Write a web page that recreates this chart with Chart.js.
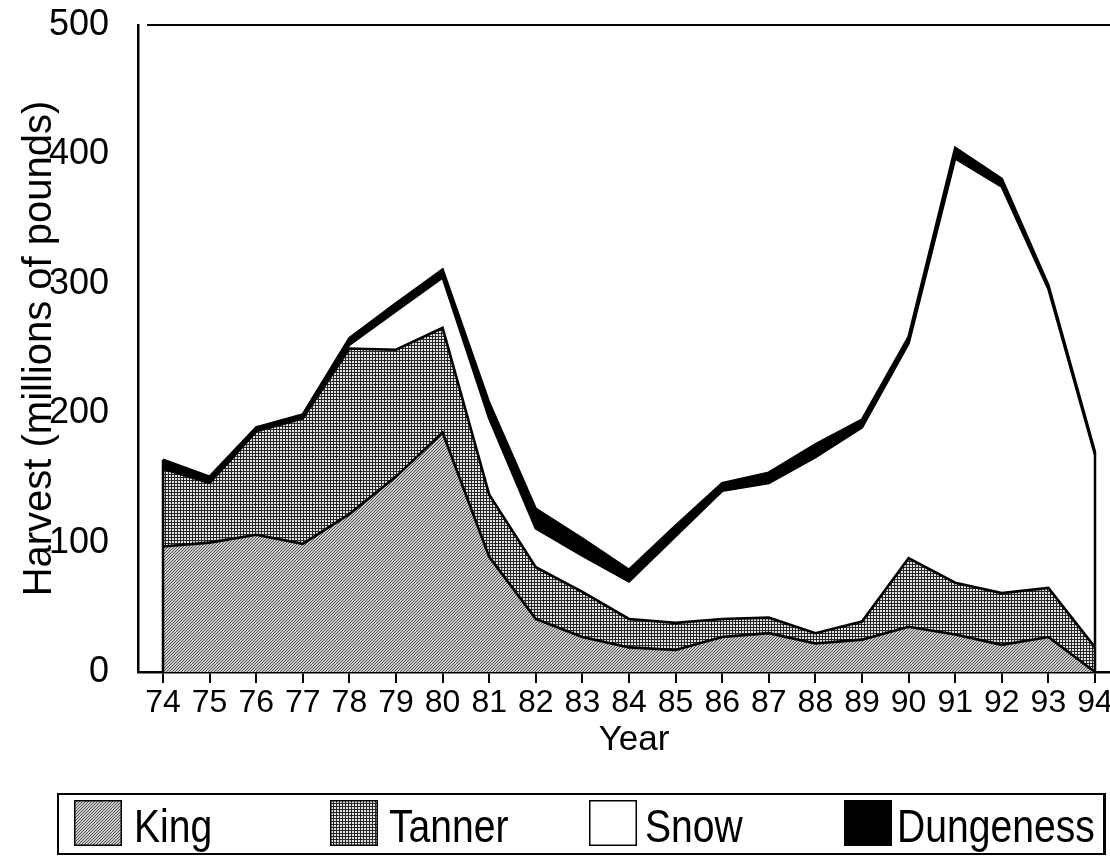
<!DOCTYPE html>
<html>
<head>
<meta charset="utf-8">
<script src="https://cdn.jsdelivr.net/npm/chart.js@4"></script>
<style>
html,body{margin:0;padding:0;background:#fff;overflow:hidden;width:1110px;height:856px;}
#wrap{position:relative;width:1130px;height:856px;}
#c{position:absolute;left:0;top:0;}
#legend{position:absolute;left:57px;top:793px;width:1044px;height:58px;border:2px solid #000;border-right-width:3px;font-family:"Liberation Sans",Arial,sans-serif;color:#000;}
.sw{position:absolute;top:5px;}
.lt{position:absolute;top:2px;font-size:46px;line-height:58px;transform-origin:left center;transform:scaleX(0.85);white-space:nowrap;}
</style>
</head>
<body>
<div id="wrap">
<canvas id="c" width="1130" height="856"></canvas>
<div id="legend"></div>
</div>
<script>
// ---- data (millions of pounds) ----
const years = [74,75,76,77,78,79,80,81,82,83,84,85,86,87,88,89,90,91,92,93,94];
const king      = [97,100,106,99,122,151,185,89,41,27,19,17,27,30,22,25,35,29,21,27,0];
const tanner    = [60,46,80,97,128,98,81,48,40,35,22,21,14,12,8,14,53,40,40,38,19];
const snow      = [1,1,1,1,3,30,39,59,30,28,29,67,99,104,136,150,166,328,314,231,149];
const dungeness = [6,4,2,2,5,6,6,12,15,13,9,8,6,8,10,6,5,8,6,3,2];
const yTicks = [0,100,200,300,400,500];
const seriesNames = ['King','Tanner','Snow','Dungeness'];

const FAMILY = '"Liberation Sans", Arial, Helvetica, sans-serif';

function makePattern(kind){
  const t = document.createElement('canvas');
  const n = kind === 'king' ? 6 : 3;
  t.width = n; t.height = n;
  const g = t.getContext('2d');
  if (kind === 'king'){
    g.fillStyle = '#cdcdcd'; g.fillRect(0,0,n,n);
    g.fillStyle = '#505050';
    for (let i=0;i<n;i++){ for (let j=0;j<n;j++){ if ((i + j) % 3 === 0) g.fillRect(i,j,1,1); } }
  } else {
    g.fillStyle = '#e4e4e4'; g.fillRect(0,0,n,n);
    g.fillStyle = '#262626';
    g.fillRect(0,0,n,1); g.fillRect(0,0,1,n);
  }
  return g.createPattern(t,'repeat');
}
const kingPat = makePattern('king');
const tannerPat = makePattern('tanner');

const fills = [kingPat, tannerPat, '#ffffff', '#000000'];
const seriesData = [king, tanner, snow, dungeness];

const datasets = seriesData.map((arr, k) => ({
  label: seriesNames[k],
  data: years.map((yr, i) => ({x: yr, y: arr[i]})),
  backgroundColor: fills[k],
  borderColor: '#000',
  borderWidth: 2.6,
  fill: k === 0 ? 'origin' : '-1',
  pointRadius: 0,
  tension: 0
}));

const edgePlugin = {
  id: 'edges',
  afterDatasetsDraw(chart){
    const {ctx, chartArea: a, scales: {x, y}} = chart;
    const last = years.length - 1;
    const tot = i => king[i] + tanner[i] + snow[i] + dungeness[i];
    ctx.save();
    ctx.strokeStyle = '#000';
    ctx.lineWidth = 2.5;
    ctx.beginPath();
    ctx.moveTo(x.getPixelForValue(years[0]), y.getPixelForValue(tot(0)));
    ctx.lineTo(x.getPixelForValue(years[0]), y.getPixelForValue(0));
    ctx.moveTo(x.getPixelForValue(years[last]), y.getPixelForValue(tot(last)));
    ctx.lineTo(x.getPixelForValue(years[last]), y.getPixelForValue(0));
    ctx.stroke();
    ctx.lineWidth = 2;
    ctx.beginPath();
    ctx.moveTo(a.left + 9, a.top);
    ctx.lineTo(a.right, a.top);
    ctx.stroke();
    ctx.restore();
  }
};

new Chart(document.getElementById('c'), {
  type: 'line',
  data: { datasets },
  plugins: [edgePlugin],
  options: {
    responsive: false,
    animation: false,
    layout: { padding: { top: 25, bottom: 94, left: 0, right: 0 } },
    plugins: { legend: { display: false }, tooltip: { enabled: false } },
    scales: {
      x: {
        type: 'linear',
        min: 73.4635,
        max: 94.751,
        afterBuildTicks: s => { s.ticks = years.map(v => ({value: v})); },
        afterFit: s => { s.height = 90; s.paddingLeft = 0; s.paddingRight = 0; },
        grid: { display: true, drawOnChartArea: false, drawTicks: true, tickLength: 11, color: '#000', lineWidth: 2 },
        border: { display: true, color: '#000', width: 2.5 },
        ticks: { color: '#000', font: { family: FAMILY, size: 32 }, padding: 1, maxRotation: 0, autoSkip: false, callback: v => String(v) },
        title: { display: true, text: 'Year', color: '#000', font: { family: FAMILY, size: 35 }, padding: { top: 0, bottom: 1 } }
      },
      y: {
        stacked: true,
        min: 0,
        max: 500,
        afterBuildTicks: s => { s.ticks = yTicks.map(v => ({value: v})); },
        afterFit: s => { s.width = 138; s.paddingTop = 0; s.paddingBottom = 0; },
        grid: { display: true, drawOnChartArea: false, drawTicks: false },
        border: { display: true, color: '#000', width: 2.5 },
        ticks: { color: '#000', font: { family: FAMILY, size: 36 }, padding: 29 },
        title: { display: true, text: 'Harvest (millions of pounds)', color: '#000', font: { family: FAMILY, size: 40 }, padding: { top: 16, bottom: 0 } }
      }
    }
  }
});

// ---- legend (HTML, real text) ----
const legend = document.getElementById('legend');
const swX = [15, 271, 530, 785];
const txX = [75, 330, 586, 838];
seriesNames.forEach((name, k) => {
  const sw = document.createElement('canvas');
  sw.className = 'sw';
  sw.width = 48; sw.height = 46;
  sw.style.left = swX[k] + 'px';
  const g = sw.getContext('2d');
  g.fillStyle = fills[k];
  g.fillRect(0, 0, 48, 46);
  g.strokeStyle = '#000'; g.lineWidth = 1.5;
  g.strokeRect(0.75, 0.75, 46.5, 44.5);
  legend.appendChild(sw);
  const t = document.createElement('div');
  t.className = 'lt';
  t.style.left = txX[k] + 'px';
  t.textContent = name;
  legend.appendChild(t);
});
</script>
</body>
</html>
